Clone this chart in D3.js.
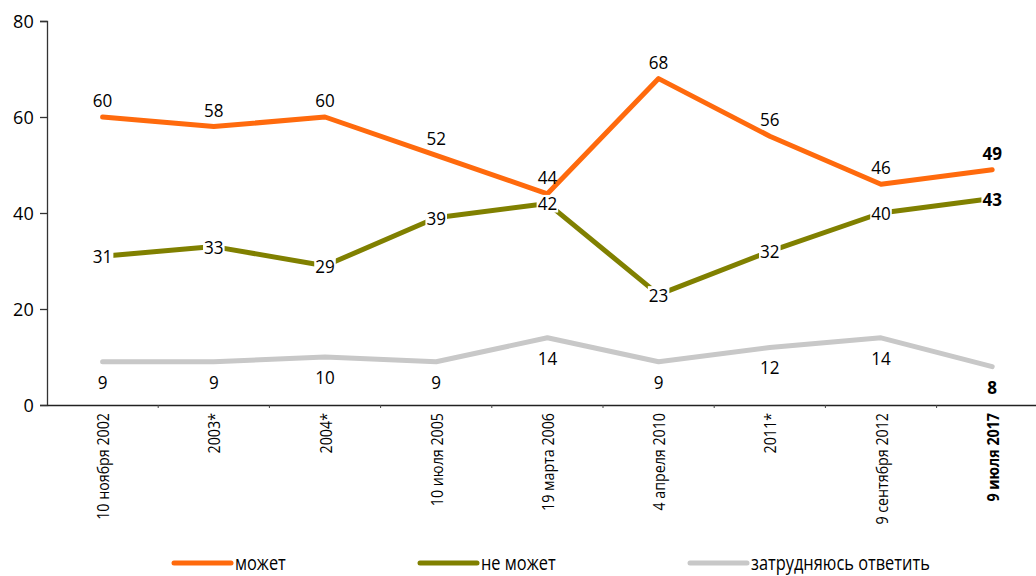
<!DOCTYPE html>
<html><head><meta charset="utf-8">
<script src="https://cdn.jsdelivr.net/npm/d3@7"></script>
<style>
body{margin:0;background:#fff;}
svg{display:block;font-family:"Open Sans","Noto Sans",sans-serif;}
</style></head>
<body>
<svg id="c" width="1036" height="576"></svg>
<script>
const categories = ["10 ноября 2002","2003*","2004*","10 июля 2005","19 марта 2006","4 апреля 2010","2011*","9 сентября 2012","9 июля 2017"];
const canValues = [60,58,60,52,44,68,56,46,49];
const cannotValues = [31,33,29,39,42,23,32,40,43];
const hardValues = [9,9,10,9,14,9,12,14,8];
const yTicks = [0,20,40,60,80];
const seriesNames = ["может","не может","затрудняюсь ответить"];
const colors = ["#ff6a0d","#808000","#c8c8c8"];

(function(){
const svg = d3.select("#c");
const mLeft = 47, mTop = 21, mBottom = 405;
const x = d3.scaleBand().domain(categories).range([mLeft, mLeft + 111.2*9]).padding(0);
const y = d3.scaleLinear().domain([0,80]).range([mBottom, mTop]);
const cx = d => x(d) + x.bandwidth()/2;

// axes
const yAxis = svg.append("g").attr("transform",`translate(${mLeft},0)`)
  .call(d3.axisLeft(y).tickValues(yTicks).tickSize(7).tickPadding(7).tickFormat(d3.format("d")));
yAxis.selectAll("text").attr("font-size",19).attr("fill","#000").attr("font-family","'Open Sans',sans-serif")
  .attr("transform","scale(0.95,1)");
yAxis.select(".domain").attr("stroke","#333").attr("stroke-width",1.3);
yAxis.selectAll(".tick line").attr("stroke","#333").attr("stroke-width",1.3);

const xAxis = svg.append("g").attr("transform",`translate(0,${mBottom})`)
  .call(d3.axisBottom(x).tickSize(0).tickFormat(""));
xAxis.select(".domain").attr("stroke","#222").attr("stroke-width",1.5);
svg.append("g").selectAll("line").data(categories.slice(1)).join("line")
  .attr("x1",d=>x(d)).attr("x2",d=>x(d)).attr("y1",mBottom).attr("y2",mBottom+3)
  .attr("stroke","#444").attr("stroke-width",1);
// x labels
svg.append("g").selectAll("text").data(categories).join("text")
  .attr("transform",d=>`translate(${cx(d)+6.5},${mBottom+8}) rotate(-90) scale(0.92,1)`)
  .attr("text-anchor","end").attr("font-size",15.5)
  .attr("font-weight",(d,i)=>i===categories.length-1?"bold":"normal")
  .attr("fill","#000").text(d=>d);

const line = d3.line().x((d,i)=>cx(categories[i])).y(d=>y(d));
const all = [canValues, cannotValues, hardValues];
[2,1,0].forEach(k=>{
  svg.append("path").datum(all[k]).attr("d",line).attr("fill","none")
    .attr("stroke",colors[k]).attr("stroke-width",5).attr("stroke-linecap","round").attr("stroke-linejoin","round");
});

const last = categories.length-1;
const lblSize = 18;
svg.append("g").selectAll("text").data(canValues).join("text")
  .attr("transform",(d,i)=>`translate(${cx(categories[i])},${y(d)-10}) scale(0.95,1)`)
  .attr("text-anchor","middle").attr("font-size",lblSize)
  .attr("font-weight",(d,i)=>i===last?"bold":"normal").text(d=>d);
svg.append("g").selectAll("text").data(hardValues).join("text")
  .attr("transform",(d,i)=>`translate(${cx(categories[i])},${y(d)+27}) scale(0.95,1)`)
  .attr("text-anchor","middle").attr("font-size",lblSize)
  .attr("font-weight",(d,i)=>i===last?"bold":"normal").text(d=>d);
const og = svg.append("g");
cannotValues.forEach((d,i)=>{
  const g = og.append("g").attr("transform",`translate(${cx(categories[i])},${y(d)+7})`);
  const t = g.append("text").attr("text-anchor","middle").attr("font-size",lblSize)
    .attr("transform","scale(0.95,1)")
    .attr("font-weight",i===last?"bold":"normal").text(d);
  const b = t.node().getBBox();
  g.insert("rect","text").attr("x",b.x*0.95-1).attr("y",b.y+4).attr("width",b.width*0.95+2).attr("height",b.height-7).attr("fill","#fff");
});

// legend
const legX = [174,420,690];
const lg = svg.append("g");
seriesNames.forEach((n,i)=>{
  lg.append("line").attr("x1",legX[i]).attr("x2",legX[i]+57).attr("y1",563).attr("y2",563)
    .attr("stroke",colors[i]).attr("stroke-width",5).attr("stroke-linecap","round");
  lg.append("text").attr("transform",`translate(${legX[i]+61},569.5) scale(0.82,1)`)
    .attr("font-size",20).attr("fill","#000").text(n);
});
})();
</script>
</body></html>
